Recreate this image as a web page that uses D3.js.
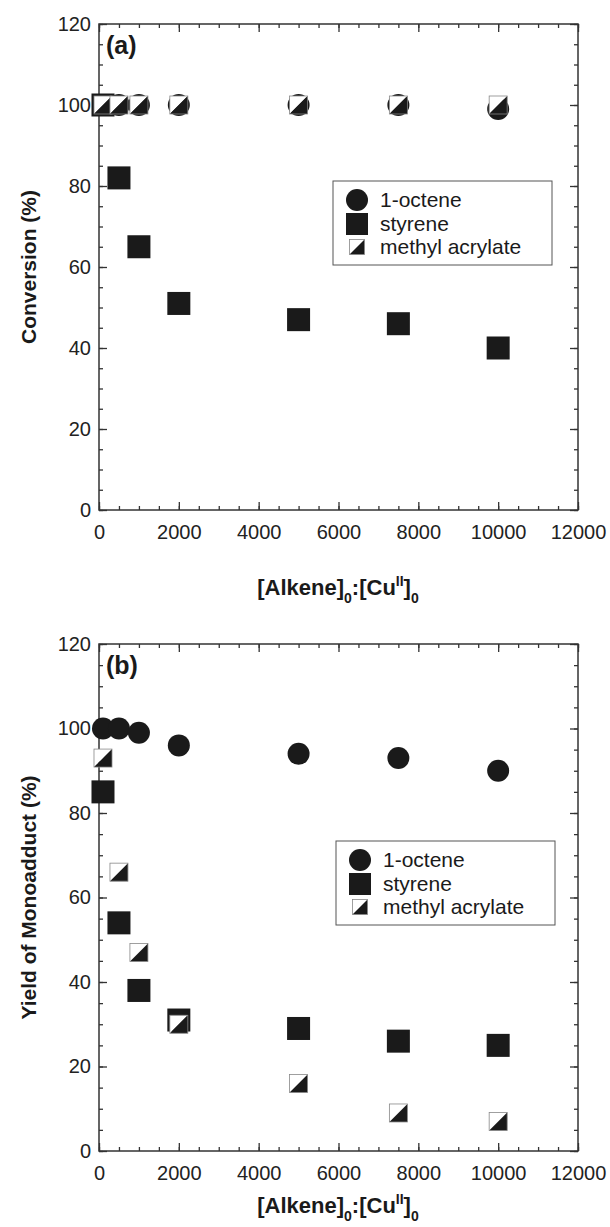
<!DOCTYPE html>
<html>
<head>
<meta charset="utf-8">
<script src="https://cdn.jsdelivr.net/npm/d3@7"></script>
<style>
body { margin: 0; background: #fff; }
text { font-family: "Liberation Sans", Arial, sans-serif; }
</style>
</head>
<body>
<div id="chart"></div>
<script>
// [Alkene]0:[CuII]0 ratios
var ratios = [100, 500, 1000, 2000, 5000, 7500, 10000];

// (a) conversion (%)
var convOctene = [100, 100, 100, 100, 100, 100, 99];
var convStyrene = [100, 82, 65, 51, 47, 46, 40];
var convAcrylate = [100, 100, 100, 100, 100, 100, 100];

// (b) yield of monoadduct (%)
var yieldOctene = [100, 100, 99, 96, 94, 93, 90];
var yieldStyrene = [85, 54, 38, 31, 29, 26, 25];
var yieldAcrylate = [93, 66, 47, 30, 16, 9, 7];

var xTicks = [0, 2000, 4000, 6000, 8000, 10000, 12000];
var yTicks = [0, 20, 40, 60, 80, 100, 120];
var seriesNames = ["1-octene", "styrene", "methyl acrylate"];

function halfSquare(g, cx, cy, s) {
    var h = s / 2;
    g.append("path")
        .attr("d", "M" + (cx - h) + "," + (cy - h) + "L" + (cx + h) + "," + (cy - h) + "L" + (cx - h) + "," + (cy + h) + "Z")
        .attr("fill", "#fff");
    g.append("path")
        .attr("d", "M" + (cx + h) + "," + (cy - h) + "L" + (cx + h) + "," + (cy + h) + "L" + (cx - h) + "," + (cy + h) + "Z")
        .attr("fill", "#1a1a1a");
    g.append("rect")
        .attr("x", cx - h).attr("y", cy - h)
        .attr("width", s).attr("height", s)
        .attr("fill", "none")
        .attr("stroke", "#888")
        .attr("stroke-width", 0.8);
}

function drawPanel(svg, cfg) {
    var left = 99, right = 578;
    var x = d3.scaleLinear().domain([0, 12000]).range([left, right]);
    var y = d3.scaleLinear().domain([0, 120]).range([cfg.bottom, cfg.top]);
    var g = svg.append("g");
    var axisColor = "#333";

    // major / minor ticks, pointing inward, on all four sides
    function styleAxis(sel) {
        sel.select(".domain").remove();
        sel.selectAll(".tick line").attr("stroke", axisColor).attr("stroke-width", 1.3);
        sel.selectAll(".tick text")
            .attr("fill", "#222")
            .style("font-size", "20px");
    }

    g.append("g").attr("transform", "translate(0," + cfg.bottom + ")")
        .call(d3.axisBottom(x).tickValues(d3.range(0, 12001, 500)).tickSizeInner(-4).tickSizeOuter(0).tickFormat(""))
        .call(styleAxis);
    g.append("g").attr("transform", "translate(0," + cfg.bottom + ")")
        .call(d3.axisBottom(x).tickValues(xTicks).tickSizeInner(-8).tickSizeOuter(0).tickPadding(15).tickFormat(d3.format("d")))
        .call(styleAxis);
    g.append("g").attr("transform", "translate(0," + cfg.top + ")")
        .call(d3.axisTop(x).tickValues(d3.range(0, 12001, 500)).tickSizeInner(-4).tickSizeOuter(0).tickFormat(""))
        .call(styleAxis);
    g.append("g").attr("transform", "translate(0," + cfg.top + ")")
        .call(d3.axisTop(x).tickValues(xTicks).tickSizeInner(-8).tickSizeOuter(0).tickFormat(""))
        .call(styleAxis);

    g.append("g").attr("transform", "translate(" + left + ",0)")
        .call(d3.axisLeft(y).tickValues(d3.range(0, 121, 5)).tickSizeInner(-4).tickSizeOuter(0).tickFormat(""))
        .call(styleAxis);
    g.append("g").attr("transform", "translate(" + left + ",0)")
        .call(d3.axisLeft(y).tickValues(yTicks).tickSizeInner(-8).tickSizeOuter(0).tickPadding(8))
        .call(styleAxis);
    g.append("g").attr("transform", "translate(" + right + ",0)")
        .call(d3.axisRight(y).tickValues(d3.range(0, 121, 5)).tickSizeInner(-4).tickSizeOuter(0).tickFormat(""))
        .call(styleAxis);
    g.append("g").attr("transform", "translate(" + right + ",0)")
        .call(d3.axisRight(y).tickValues(yTicks).tickSizeInner(-8).tickSizeOuter(0).tickFormat(""))
        .call(styleAxis);

    g.append("rect")
        .attr("x", left).attr("y", cfg.top)
        .attr("width", right - left).attr("height", cfg.bottom - cfg.top)
        .attr("fill", "none")
        .attr("stroke", axisColor)
        .attr("stroke-width", 1.5);

    // panel label
    g.append("text")
        .attr("x", 106).attr("y", cfg.top + 30)
        .style("font-size", "25px").style("font-weight", "bold")
        .attr("fill", "#1a1a1a")
        .text(cfg.label);

    // y title
    g.append("text")
        .attr("transform", "translate(36," + ((cfg.top + cfg.bottom) / 2) + ") rotate(-90)")
        .attr("text-anchor", "middle")
        .style("font-size", "21px").style("font-weight", "bold")
        .attr("fill", "#1a1a1a")
        .text(cfg.yTitle);

    // x title [Alkene]0:[CuII]0
    var t = g.append("text")
        .attr("x", 338).attr("y", cfg.bottom + cfg.titleOffset)
        .attr("text-anchor", "middle")
        .style("font-size", "22px").style("font-weight", "bold")
        .attr("fill", "#1a1a1a");
    t.append("tspan").text("[Alkene]");
    t.append("tspan").attr("dy", 8).style("font-size", "14px").text("0");
    t.append("tspan").attr("dy", -8).text(":[Cu");
    t.append("tspan").attr("dy", -9).style("font-size", "14px").text("II");
    t.append("tspan").attr("dy", 9).text("]");
    t.append("tspan").attr("dy", 8).style("font-size", "14px").text("0");

    // markers
    var pts = ratios.map(function(r, i) {
        return { r: r, o: cfg.octene[i], s: cfg.styrene[i], a: cfg.acrylate[i] };
    });
    var marks = g.append("g");
    marks.selectAll("circle.oct")
        .data(pts).enter().append("circle")
        .attr("class", "oct")
        .attr("cx", function(d) { return x(d.r); })
        .attr("cy", function(d) { return y(d.o); })
        .attr("r", 11)
        .attr("fill", "#1a1a1a");
    marks.selectAll("rect.sty")
        .data(pts).enter().append("rect")
        .attr("class", "sty")
        .attr("x", function(d) { return x(d.r) - 11.5; })
        .attr("y", function(d) { return y(d.s) - 11.5; })
        .attr("width", 23).attr("height", 23)
        .attr("fill", "#1a1a1a");
    pts.forEach(function(d) {
        halfSquare(marks, x(d.r), y(d.a), 18);
    });

    // legend
    var lx = cfg.legendX, ly = cfg.legendY;
    var leg = g.append("g");
    leg.append("rect")
        .attr("x", lx).attr("y", ly)
        .attr("width", 219).attr("height", 84)
        .attr("fill", "#fff")
        .attr("stroke", "#555")
        .attr("stroke-width", 1);
    var rowY = [ly + 19, ly + 43, ly + 66];
    leg.append("circle").attr("cx", lx + 24).attr("cy", rowY[0]).attr("r", 11).attr("fill", "#1a1a1a");
    leg.append("rect").attr("x", lx + 13).attr("y", rowY[1] - 11).attr("width", 22).attr("height", 22).attr("fill", "#1a1a1a");
    halfSquare(leg, lx + 24, rowY[2], 15);
    leg.selectAll("text.lab")
        .data(seriesNames).enter().append("text")
        .attr("class", "lab")
        .attr("x", lx + 47)
        .attr("y", function(d, i) { return rowY[i] + 7; })
        .style("font-size", "21px")
        .attr("fill", "#1a1a1a")
        .text(function(d) { return d; });
}

function init() {
    var svg = d3.select("#chart").append("svg")
        .attr("width", 610)
        .attr("height", 1227);

    drawPanel(svg, {
        top: 24, bottom: 510, label: "(a)", yTitle: "Conversion (%)",
        octene: convOctene, styrene: convStyrene, acrylate: convAcrylate,
        legendX: 333, legendY: 181, titleOffset: 85
    });
    drawPanel(svg, {
        top: 644, bottom: 1151, label: "(b)", yTitle: "Yield of Monoadduct (%)",
        octene: yieldOctene, styrene: yieldStyrene, acrylate: yieldAcrylate,
        legendX: 336, legendY: 841, titleOffset: 62
    });
}

window.onload = init;
</script>
</body>
</html>
